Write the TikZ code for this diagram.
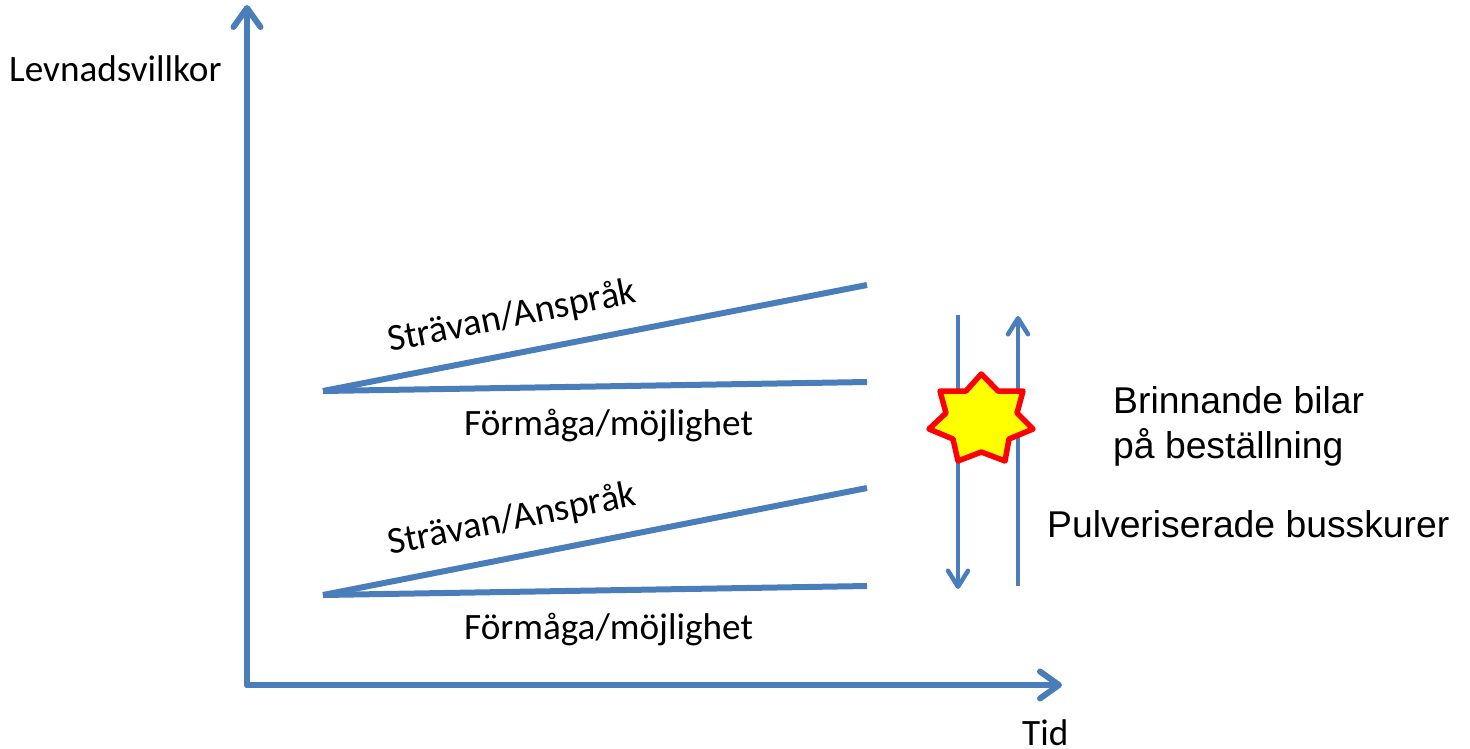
\documentclass[tikz,border=0pt]{standalone}
\usepackage{fontspec}
\setmainfont{Carlito}
\newfontfamily\arialfont{Liberation Sans}
\usetikzlibrary{arrows.meta}
\definecolor{axisblue}{RGB}{74,126,187}
\definecolor{burstyellow}{RGB}{255,255,0}
\definecolor{burstred}{RGB}{255,0,0}
\tikzset{
  axisline/.style={draw=axisblue,line width=6pt,line cap=round,line join=round},
  axisarrow/.style={axisline,-{Straight Barb[length=19pt,width=27pt,line width=6pt,round]}},
  trendline/.style={draw=axisblue,line width=6pt},
  thinline/.style={draw=axisblue,line width=4.5pt},
  thinarrow/.style={thinline,-{Straight Barb[length=16pt,width=20pt,line width=4.5pt,round]}},
  calibrilabel/.style={font=\fontsize{37.2}{44}\selectfont,text=black,inner sep=0pt,anchor=base west},
  slantlabel/.style={calibrilabel,font=\fontsize{37.9}{44}\selectfont,rotate=11.3},
  ariallabel/.style={font=\arialfont\fontsize{37.3}{45}\selectfont,text=black,inner sep=0pt,anchor=base west,align=left},
  burst/.style={draw=burstred,fill=burstyellow,line width=5.5pt,line join=round}
}
\begin{document}
\begin{tikzpicture}[x=1pt,y=-1pt]
\useasboundingbox (0,0) rectangle (1470,748);
\coordinate (origin) at (247,685);
\coordinate (ytop) at (247,5);
\coordinate (xend) at (1062,685);
\draw[axisarrow] (origin) -- (ytop);
\draw[axisarrow] (origin) -- (xend);
\coordinate (s1) at (323,391);
\coordinate (a1) at (867,285);
\coordinate (f1) at (867,382);
\coordinate (s2) at (323,595);
\coordinate (a2) at (867,488);
\coordinate (f2) at (867,586);
\draw[trendline] (s1) -- (a1);
\draw[trendline] (s1) -- (f1);
\draw[trendline] (s2) -- (a2);
\draw[trendline] (s2) -- (f2);
\coordinate (dtop) at (958,315);
\coordinate (dbot) at (958,589);
\coordinate (ubot) at (1018,586);
\coordinate (utop) at (1018,316);
\draw[thinarrow] (dtop) -- (dbot);
\draw[thinarrow] (ubot) -- (utop);
\draw[burst] (981.3,374) -- (998,391) -- (1023,391) -- (1017,413) -- (1033,429) -- (1009,439) -- (1005,461) -- (981.3,452) -- (958,461) -- (953,439) -- (929,429) -- (946,413) -- (940,391) -- (966,391) -- cycle;
\node[calibrilabel] (lev) at (9,81) {Levnadsvillkor};
\node[calibrilabel] (tid) at (1022,745) {Tid};
\node[slantlabel] (st1) at (390,352) {Strävan/Anspråk};
\node[slantlabel] (st2) at (390,555) {Strävan/Anspråk};
\node[calibrilabel] (fo1) at (464,435) {Förmåga/möjlighet};
\node[calibrilabel] (fo2) at (464,639) {Förmåga/möjlighet};
\node[ariallabel] (bb) at (1113,458) {Brinnande bilar\\på beställning};
\node[ariallabel] (pb) at (1047,537) {Pulveriserade busskurer};
\end{tikzpicture}
\end{document}
